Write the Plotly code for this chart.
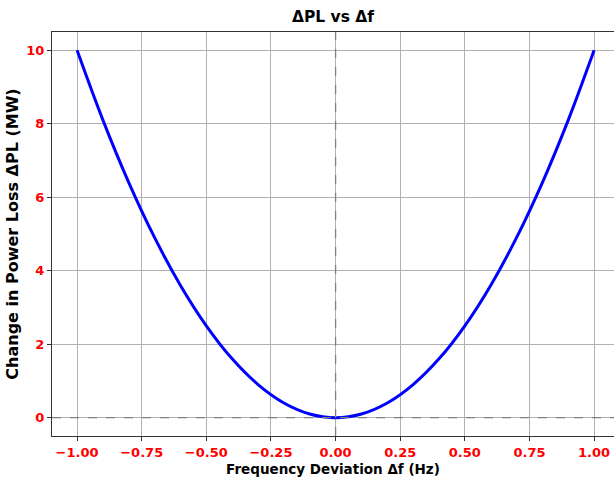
import plotly.graph_objects as go

freq_dev = [-1.0, -0.9, -0.8, -0.7, -0.6, -0.5, -0.4, -0.3, -0.2, -0.1, 0.0,
            0.1, 0.2, 0.3, 0.4, 0.5, 0.6, 0.7, 0.8, 0.9, 1.0]
power_loss = [10.0, 8.1, 6.4, 4.9, 3.6, 2.5, 1.6, 0.9, 0.4, 0.1, 0.0,
              0.1, 0.4, 0.9, 1.6, 2.5, 3.6, 4.9, 6.4, 8.1, 10.0]
x_ticks = [-1.0, -0.75, -0.5, -0.25, 0.0, 0.25, 0.5, 0.75, 1.0]
x_tick_labels = ["−1.00", "−0.75", "−0.50", "−0.25", "0.00", "0.25", "0.50", "0.75", "1.00"]
y_ticks = [0, 2, 4, 6, 8, 10]

FONT = "DejaVu Sans"

fig = go.Figure()
fig.add_trace(go.Scatter(x=freq_dev, y=power_loss, mode="lines",
                         line=dict(color="#0000ff", width=3, shape="spline", smoothing=1.0),
                         showlegend=False))

fig.add_hline(y=0, line=dict(color="#808080", width=1.3, dash="dash"), layer="above")
fig.add_vline(x=0, line=dict(color="#808080", width=1.3, dash="dash"), layer="above")

fig.update_layout(
    width=614, height=480,
    margin=dict(l=52, r=0, t=32, b=44),
    paper_bgcolor="white", plot_bgcolor="white",
    font=dict(family=FONT, color="black"),
    title=dict(text="<b>ΔPL vs Δf</b>", x=0.5, xref="paper", xanchor="center",
               y=1 - 17/480, yanchor="middle", font=dict(size=15.5, family=FONT)),
)
fig.update_xaxes(
    range=[-1.097, 1.077], tickvals=x_ticks, ticktext=[f"<b>{t}</b>" for t in x_tick_labels],
    tickfont=dict(color="red", size=13, family=FONT),
    showgrid=True, gridcolor="#b0b0b0", gridwidth=1,
    showline=True, linecolor="#333333", linewidth=1, mirror=True,
    ticks="outside", ticklen=4, tickcolor="#333333", zeroline=False,
    title=dict(text="<b>Frequency Deviation Δf (Hz)</b>", font=dict(size=13.5, family=FONT), standoff=5),
)
fig.update_yaxes(
    range=[-0.5, 10.5], tickvals=y_ticks, ticktext=[f"<b>{t}</b>" for t in y_ticks],
    tickfont=dict(color="red", size=13, family=FONT),
    showgrid=True, gridcolor="#b0b0b0", gridwidth=1,
    showline=True, linecolor="#333333", linewidth=1,
    ticks="outside", ticklen=4, tickcolor="#333333", zeroline=False,
    title=dict(text="<b>Change in Power Loss ΔPL (MW)</b>", font=dict(size=16, family=FONT), standoff=3),
)

fig.write_html("out.html")
